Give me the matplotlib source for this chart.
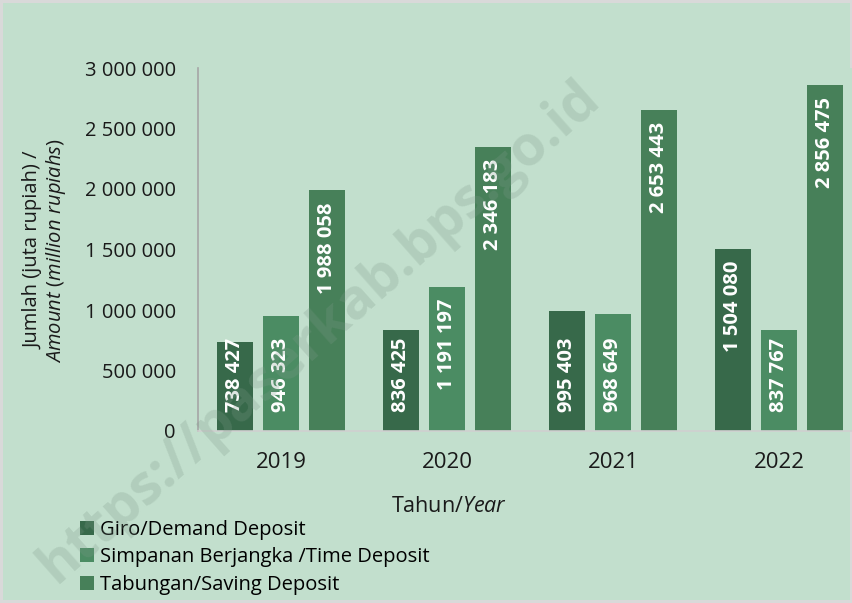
import numpy as np
import matplotlib
matplotlib.use("Agg")
import matplotlib.pyplot as plt
from matplotlib.transforms import offset_copy

# 数据
tahun = ["2019", "2020", "2021", "2022"]
giro = [738427, 836425, 995403, 1504080]
simpanan = [946323, 1191197, 968649, 837767]
tabungan = [1988058, 2346183, 2653443, 2856475]
seri_label = ["Giro/Demand Deposit", "Simpanan Berjangka /Time Deposit", "Tabungan/Saving Deposit"]
y_ticks = [0, 500000, 1000000, 1500000, 2000000, 2500000, 3000000]

plt.rcParams["font.family"] = ["Open Sans", "DejaVu Sans"]
plt.rcParams["mathtext.fontset"] = "custom"
plt.rcParams["mathtext.rm"] = "Open Sans"
plt.rcParams["mathtext.it"] = "Open Sans:italic"

bg = "#c2dfcd"
warna = ["#37694a", "#4b8c63", "#478059"]

fig = plt.figure(figsize=(8.53, 6.03), dpi=100)
fig.patch.set_facecolor(bg)
fig.patch.set_edgecolor("#d9d9d9")
fig.patch.set_linewidth(4)

ax = fig.add_axes([198 / 853, 172 / 603, 664 / 853, 363 / 603])
ax.set_facecolor(bg)

x = np.arange(len(tahun))
lebar = 0.217
jarak = 0.277

def fmt(v):
    return "{:,}".format(v).replace(",", " ")

for i, (seri, lab) in enumerate(zip([giro, simpanan, tabungan], seri_label)):
    pos = x + (i - 1) * jarak
    ax.bar(pos, seri, width=lebar, color=warna[i], label=lab, zorder=2)
    for px, v in zip(pos, seri):
        if v < 1.1e6:
            # 短柱：标签贴近底部
            tr = offset_copy(ax.transData, fig=fig, x=0, y=19, units="dots")
            ax.text(px, 0, fmt(v), rotation=90, ha="center", va="bottom",
                    color="white", fontsize=14.5, fontweight="bold", transform=tr, zorder=3)
        else:
            tr = offset_copy(ax.transData, fig=fig, x=0, y=-12, units="dots")
            ax.text(px, v, fmt(v), rotation=90, ha="center", va="top",
                    color="white", fontsize=14.5, fontweight="bold", transform=tr, zorder=3)

ax.set_xlim(-0.5, len(tahun) - 0.5)
ax.set_ylim(0, 3000000)
ax.set_xticks(x)
ax.set_xticklabels(tahun)
ax.set_yticks(y_ticks)
ax.set_yticklabels([fmt(v) for v in y_ticks])
ax.tick_params(axis="both", length=0, colors="#1a1a1a")
ax.tick_params(axis="x", pad=15, labelsize=16)
ax.tick_params(axis="y", pad=16, labelsize=14.5)

for s in ["top", "right"]:
    ax.spines[s].set_visible(False)
ax.spines["left"].set_color("#a6a6a6")
ax.spines["bottom"].set_color("#d0d0d0")
ax.spines["left"].set_linewidth(1.2)
ax.spines["bottom"].set_linewidth(1.2)

fig.text(0.054, 0.585, "Jumlah (juta rupiah) /\n$\\mathit{Amount\\ (million\\ rupiahs)}$",
         rotation=90, ha="center", va="center", fontsize=14.5, color="#1a1a1a",
         linespacing=1.05)
fig.text(0.527, 0.16, "Tahun/$\\mathit{Year}$", ha="center", va="center",
         fontsize=15.5, color="#1a1a1a")

fig.legend(loc="upper left", bbox_to_anchor=(0.094, 0.138), frameon=False,
           fontsize=14.5, handlelength=0.7, handleheight=0.7, handletextpad=0.3,
           labelspacing=0.38, borderpad=0, borderaxespad=0)

# 水印
fig.text(0.375, 0.45, "https://paserkab.bps.go.id", rotation=41.5, ha="center", va="center",
         fontsize=40, fontweight="bold", color="#7f9a8a", alpha=0.25, zorder=10)

fig.savefig("out.png", dpi=100, facecolor=fig.get_facecolor(), edgecolor=fig.get_edgecolor())
